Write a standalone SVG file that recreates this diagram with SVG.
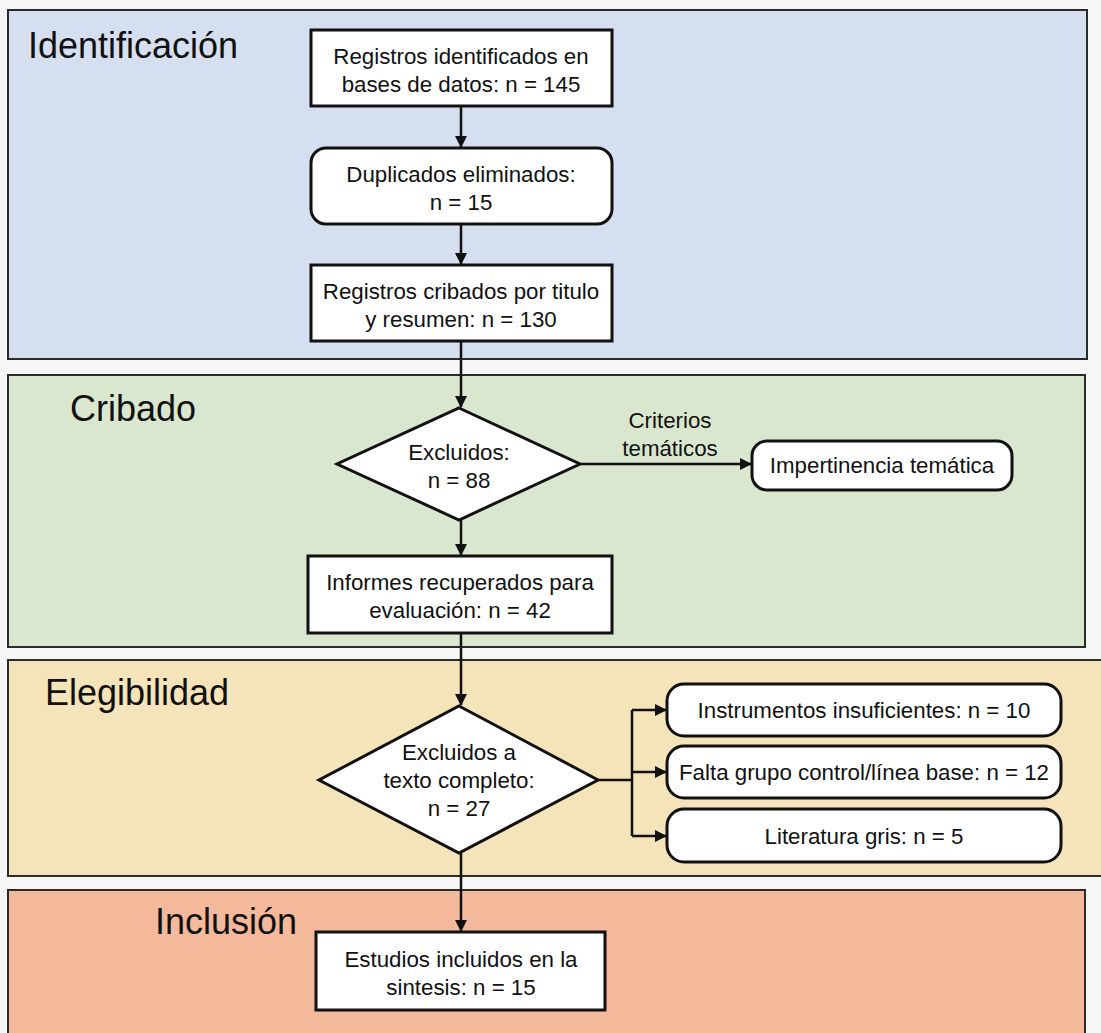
<svg xmlns="http://www.w3.org/2000/svg" width="1101" height="1033" viewBox="0 0 1101 1033">
<defs>
<marker id="ah" markerWidth="12" markerHeight="12" refX="11" refY="6" orient="auto" markerUnits="userSpaceOnUse">
<path d="M0,0 L12,6 L0,12 Z" fill="#111"/>
</marker>
<style>
.band{stroke:#2b2b2b;stroke-width:2}
.box{fill:#fff;stroke:#111;stroke-width:3}
.t{font-family:"Liberation Sans",Arial,sans-serif;font-size:22.3px;fill:#111;text-anchor:middle}
.bt{font-family:"Liberation Sans",Arial,sans-serif;font-size:36px;fill:#111}
.c{fill:none;stroke:#111;stroke-width:2.5}
</style>
</defs>
<rect width="1101" height="1033" fill="#f6f6f6"/>
<g id="bands">
<rect class="band" x="8" y="10" width="1079" height="349" fill="#d6dfef"/>
<rect class="band" x="8" y="375" width="1077" height="272" fill="#d9e7cf"/>
<rect class="band" x="8" y="660" width="1100" height="216" fill="#f5e4b9"/>
<rect class="band" x="8" y="890" width="1077" height="150" fill="#f4b99a"/>
<text class="bt" x="28" y="58">Identificación</text>
<text class="bt" x="70" y="421">Cribado</text>
<text class="bt" x="45" y="705">Elegibilidad</text>
<text class="bt" x="155" y="934">Inclusión</text>
</g>
<g id="connectors">
<path class="c" d="M461,106 V147" marker-end="url(#ah)"/>
<path class="c" d="M461,224 V264" marker-end="url(#ah)"/>
<path class="c" d="M461,341 V407" marker-end="url(#ah)"/>
<path class="c" d="M580,464 H751" marker-end="url(#ah)"/>
<path class="c" d="M461,520 V555" marker-end="url(#ah)"/>
<path class="c" d="M461,633 V705" marker-end="url(#ah)"/>
<path class="c" d="M598,780 H632"/>
<path class="c" d="M632,710 V836"/>
<path class="c" d="M632,710 H666" marker-end="url(#ah)"/>
<path class="c" d="M632,772 H666" marker-end="url(#ah)"/>
<path class="c" d="M632,836 H666" marker-end="url(#ah)"/>
<path class="c" d="M461,853 V931" marker-end="url(#ah)"/>
<text class="t" x="670" y="428">Criterios</text>
<text class="t" x="670" y="456">temáticos</text>
</g>
<g id="n1">
<rect class="box" x="311" y="30" width="301" height="76"/>
<text class="t" x="461" y="63.5">Registros identificados en</text>
<text class="t" x="461" y="91.5">bases de datos: n = 145</text>
</g>
<g id="n2">
<rect class="box" x="311" y="148" width="301" height="76" rx="15"/>
<text class="t" x="461" y="181.5">Duplicados eliminados:</text>
<text class="t" x="461" y="209.5">n = 15</text>
</g>
<g id="n3">
<rect class="box" x="311" y="265" width="301" height="76"/>
<text class="t" x="461" y="298.5">Registros cribados por titulo</text>
<text class="t" x="461" y="326.5">y resumen: n = 130</text>
</g>
<g id="d1">
<polygon class="box" points="459,408 580,464 459,520 337,464"/>
<text class="t" x="459" y="459.5">Excluidos:</text>
<text class="t" x="459" y="487.5">n = 88</text>
</g>
<g id="n5">
<rect class="box" x="752" y="441" width="260" height="49" rx="15"/>
<text class="t" x="882" y="473">Impertinencia temática</text>
</g>
<g id="n6">
<rect class="box" x="308" y="556" width="304" height="77"/>
<text class="t" x="460" y="590">Informes recuperados para</text>
<text class="t" x="460" y="618">evaluación: n = 42</text>
</g>
<g id="d2">
<polygon class="box" points="459,706 598,780 459,853 319,780"/>
<text class="t" x="459" y="760">Excluidos a</text>
<text class="t" x="459" y="788">texto completo:</text>
<text class="t" x="459" y="816">n = 27</text>
</g>
<g id="n8">
<rect class="box" x="667" y="684" width="394" height="52" rx="17"/>
<text class="t" x="864" y="718">Instrumentos insuficientes: n = 10</text>
</g>
<g id="n9">
<rect class="box" x="667" y="746" width="394" height="52" rx="17"/>
<text class="t" x="864" y="780">Falta grupo control/línea base: n = 12</text>
</g>
<g id="n10">
<rect class="box" x="667" y="809" width="394" height="53" rx="17"/>
<text class="t" x="864" y="844">Literatura gris: n = 5</text>
</g>
<g id="n11">
<rect class="box" x="316" y="932" width="289" height="78"/>
<text class="t" x="461" y="966.5">Estudios incluidos en la</text>
<text class="t" x="461" y="994.5">sintesis: n = 15</text>
</g>
</svg>
